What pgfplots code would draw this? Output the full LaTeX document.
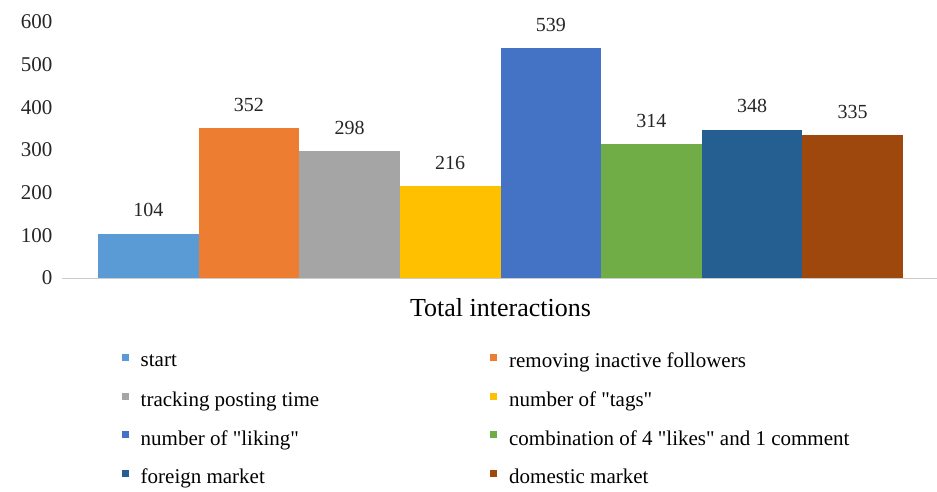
\documentclass[border=0pt]{standalone}
\usepackage{pgfplots}
\pgfplotsset{compat=1.18}
\usepackage{fontspec}
\setmainfont{Liberation Serif}
\definecolor{c1}{HTML}{5B9BD5}
\definecolor{c2}{HTML}{ED7D31}
\definecolor{c3}{HTML}{A5A5A5}
\definecolor{c4}{HTML}{FFC000}
\definecolor{c5}{HTML}{4472C4}
\definecolor{c6}{HTML}{70AD47}
\definecolor{c7}{HTML}{255E91}
\definecolor{c8}{HTML}{9E480E}
\begin{document}
\begin{tikzpicture}
\path[use as bounding box] (-62pt,-213pt) rectangle (875pt,278pt);
\begin{axis}[
  at={(0pt,0pt)}, anchor=south west,
  scale only axis,
  width=875pt, height=256pt,
  xmin=-0.858, xmax=7.838,
  ymin=0, ymax=600,
  ytick={0,100,...,600},
  xtick={3.5},
  xticklabels={Total interactions},
  xticklabel style={font=\fontsize{26}{29}\selectfont, yshift=-17pt},
  yticklabel style={font=\fontsize{21}{24}\selectfont, xshift=-6pt, text=black!85},
  /pgf/number format/assume math mode=true,
  major tick length=0pt,
  separate axis lines,
  axis x line*=bottom,
  axis y line*=left,
  x axis line style={draw=gray!40, line width=1pt, -},
  y axis line style={draw=none},
  ybar, bar width=1, bar shift=0pt,
  nodes near coords,
  nodes near coords style={font=\fontsize{20}{22}\selectfont, anchor=south, yshift=13pt, text=black!85},
  legend image code/.code={\fill[#1] (0pt,0pt) rectangle (7pt,7pt);},
  legend columns=2,
  legend cell align=left,
  legend style={draw=none, fill=none, at={(axis description cs:0.068,-0.285)}, anchor=north west,
    font=\fontsize{21}{24}\selectfont, row sep=18.3pt, inner sep=0pt,
    /tikz/every odd column/.append style={column sep=10pt},
    /tikz/every even column/.append style={column sep=169pt}},
]
\addplot[fill=c1, draw=none] coordinates {(0,104)};
\addplot[fill=c2, draw=none] coordinates {(1,352)};
\addplot[fill=c3, draw=none] coordinates {(2,298)};
\addplot[fill=c4, draw=none] coordinates {(3,216)};
\addplot[fill=c5, draw=none] coordinates {(4,539)};
\addplot[fill=c6, draw=none] coordinates {(5,314)};
\addplot[fill=c7, draw=none] coordinates {(6,348)};
\addplot[fill=c8, draw=none] coordinates {(7,335)};
\legend{start, removing inactive followers, tracking posting time, number of \textquotedbl tags\textquotedbl, number of \textquotedbl liking\textquotedbl, combination of 4 \textquotedbl likes\textquotedbl{} and 1 comment, foreign market, domestic market}
\end{axis}
\end{tikzpicture}
\end{document}
